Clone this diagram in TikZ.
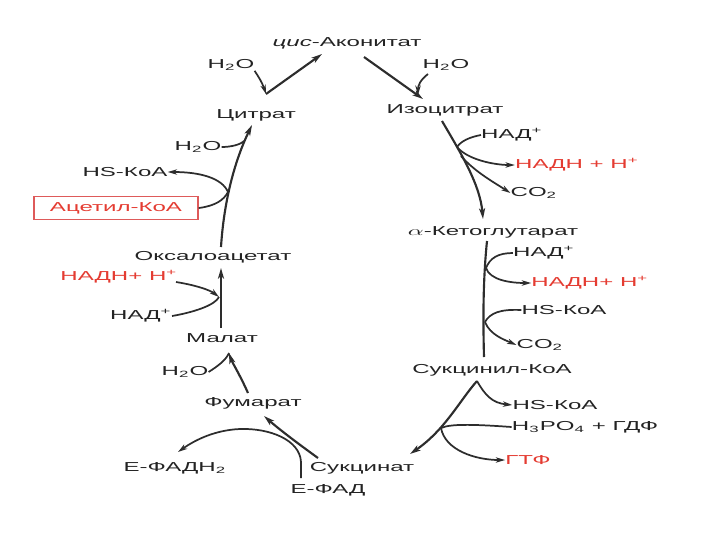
\documentclass[tikz,border=0pt]{standalone}
\usepackage{fontspec}
\setmainfont{Liberation Sans}
\usepackage{graphicx}
\usetikzlibrary{arrows.meta}
\definecolor{txtgray}{RGB}{35,35,35}
\definecolor{linegray}{RGB}{45,45,45}
\definecolor{krebsred}{RGB}{228,60,50}
\definecolor{boxred}{RGB}{222,90,90}
\newcommand{\stretchtxt}[1]{\scalebox{1.85}[1]{#1}}

\begin{document}
\begin{tikzpicture}[x=0.75pt,y=0.75pt,yscale=-1,xscale=1,
  lbl/.style={inner sep=0pt,text=txtgray,font=\fontsize{9.75}{11}\selectfont},
  redlbl/.style={lbl,text=krebsred},
  main/.style={draw=linegray,line width=1.6pt,-{Stealth[length=8pt,width=4.5pt,inset=2pt]}},
  side/.style={draw=linegray,line width=1.3pt},
  sidearr/.style={side,-{Stealth[length=7pt,width=4pt,inset=2pt]}}]
%set diagram to 720 x 540
\useasboundingbox (0,0) rectangle (720,540);

% Text Node
\draw (347,43) node[lbl] (cisacon) {\stretchtxt{\textit{цис}-Аконитат}};
% Text Node
\draw (231,65) node[lbl] (watA) {\stretchtxt{H\textsubscript{2}O}};
% Text Node
\draw (446,65) node[lbl] (watB) {\stretchtxt{H\textsubscript{2}O}};
% Text Node
\draw (256,115) node[lbl] (cit) {\stretchtxt{Цитрат}};
% Text Node
\draw (445,110) node[lbl] (isocit) {\stretchtxt{Изоцитрат}};
% Text Node
\draw (198,147) node[lbl] (watC) {\stretchtxt{H\textsubscript{2}O}};
% Text Node
\draw (512,135) node[lbl] (nadA) {\stretchtxt{НАД\textsuperscript{+}}};
% Text Node
\draw (577,165) node[redlbl] (nadhA) {\stretchtxt{НАДН + Н\textsuperscript{+}}};
% Text Node
\draw (534,193) node[lbl] (coA) {\stretchtxt{CO\textsubscript{2}}};
% Text Node
\draw (125,172) node[lbl] (hsA) {\stretchtxt{HS-КоА}};
% Text Node
\draw (116,208) node[redlbl,draw=boxred,line width=1pt,minimum width=123pt,minimum height=17pt] (acetyl) {\stretchtxt{Ацетил-КоА}};
% Text Node
\draw (493,232) node[lbl] (akg) {\stretchtxt{$\alpha$-Кетоглутарат}};
% Text Node
\draw (544,253) node[lbl] (nadB) {\stretchtxt{НАД\textsuperscript{+}}};
% Text Node
\draw (213,257) node[lbl] (oxalo) {\stretchtxt{Оксалоацетат}};
% Text Node
\draw (119,277) node[redlbl] (nadhB) {\stretchtxt{НАДН+ Н\textsuperscript{+}}};
% Text Node
\draw (590,283) node[redlbl] (nadhC) {\stretchtxt{НАДН+ Н\textsuperscript{+}}};
% Text Node
\draw (564,310) node[lbl] (hsB) {\stretchtxt{HS-КоА}};
% Text Node
\draw (141,316) node[lbl] (nadC) {\stretchtxt{НАД\textsuperscript{+}}};
% Text Node
\draw (540,345) node[lbl] (coB) {\stretchtxt{CO\textsubscript{2}}};
% Text Node
\draw (222,338) node[lbl] (malat) {\stretchtxt{Малат}};
% Text Node
\draw (185,372) node[lbl] (watD) {\stretchtxt{H\textsubscript{2}O}};
% Text Node
\draw (492,370) node[lbl] (succoa) {\stretchtxt{Сукцинил-КоА}};
% Text Node
\draw (253,403) node[lbl] (fum) {\stretchtxt{Фумарат}};
% Text Node
\draw (555,405) node[lbl] (hsC) {\stretchtxt{HS-КоА}};
% Text Node
\draw (585,427) node[lbl] (pgdf) {\stretchtxt{H\textsubscript{3}PO\textsubscript{4} + ГДФ}};
% Text Node
\draw (175,468) node[lbl] (fadh) {\stretchtxt{Е-ФАДН\textsubscript{2}}};
% Text Node
\draw (362,468) node[lbl] (succ) {\stretchtxt{Сукцинат}};
% Text Node
\draw (528,460) node[redlbl] (gtf) {\stretchtxt{ГТФ}};
% Text Node
\draw (328,490) node[lbl] (fad) {\stretchtxt{Е-ФАД}};

% junctions on the cycle
\coordinate (jcis) at (266,94);
\coordinate (jiso) at (418,95);
\coordinate (jicd) at (457,147);
\coordinate (jakgA) at (486,268);
\coordinate (jakgB) at (485,322);
\coordinate (jscs) at (477,381);
\coordinate (jgdf) at (441,428);
\coordinate (jfad) at (301,462);
\coordinate (jfum) at (229,353);
\coordinate (jmdh) at (219,297);
\coordinate (jcsA) at (228,192);
\coordinate (jcsB) at (244,141);

%Shape: citrate -> cis-aconitate
\draw [main] (jcis) -- (322,54);
\draw [sidearr] (watA.south east) .. controls (258,76) and (262,82) .. (jcis);
%Shape: cis-aconitate -> isocitrate
\draw [main] (364,57) -- (423,99);
\draw [sidearr] (428,74) .. controls (420,80) and (418,86) .. (jiso);
%Shape: isocitrate -> alpha-ketoglutarate
\draw [main] (442,121) .. controls (462,155) and (480,185) .. (483,219);
\draw [side] (nadA.west) .. controls (470,137) and (461,141) .. (jicd);
\draw [sidearr] (jicd) .. controls (468,160) and (495,165) .. (nadhA.west);
\draw [sidearr] (461,156) .. controls (475,172) and (495,183) .. (coA.west);
%Shape: alpha-ketoglutarate -> succinyl-CoA
\draw [side,line width=1.6pt] (487,241) .. controls (483,280) and (483,320) .. (484,357);
\draw [side] (nadB.west) .. controls (498,253) and (490,258) .. (jakgA);
\draw [sidearr] (jakgA) .. controls (490,280) and (510,283) .. (nadhC.west);
\draw [side] (hsB.west) .. controls (500,309) and (490,313) .. (jakgB);
\draw [sidearr] (jakgB) .. controls (490,335) and (505,340) .. (coB.west);
%Shape: succinyl-CoA -> succinate
\draw [main] (jscs) .. controls (460,400) and (445,430) .. (410,454);
\draw [sidearr] (jscs) .. controls (485,395) and (492,403) .. (hsC.west);
\draw [side] (pgdf.west) .. controls (470,424) and (450,424) .. (jgdf);
\draw [sidearr] (jgdf) .. controls (445,450) and (475,460) .. (gtf.west);
%Shape: succinate -> fumarate
\draw [main] (318,458) .. controls (300,445) and (280,430) .. (264,416);
\draw [sidearr] (301,478) -- (jfad) .. controls (300,440) and (270,428) .. (240,429) .. controls (215,430) and (195,440) .. (178,452);
%Shape: fumarate -> malate
\draw [main] (248,393) .. controls (240,375) and (232,362) .. (jfum);
\draw [side] (watD.east) .. controls (218,366) and (226,360) .. (jfum);
%Shape: malate -> oxaloacetate
\draw [main] (221,328) -- (221,268);
\draw [sidearr] (176,282) .. controls (195,285) and (210,290) .. (jmdh);
\draw [side] (nadC.east) .. controls (195,312) and (215,305) .. (jmdh);
%Shape: oxaloacetate -> citrate
\draw [main] (221,247) .. controls (224,200) and (235,160) .. (252,125);
\draw [side] (acetyl.east) .. controls (215,206) and (224,200) .. (jcsA);
\draw [sidearr] (jcsA) .. controls (222,178) and (200,172) .. (hsA.east);
\draw [side] (watC.east) .. controls (230,147) and (240,145) .. (jcsB);

\end{tikzpicture}
\end{document}
